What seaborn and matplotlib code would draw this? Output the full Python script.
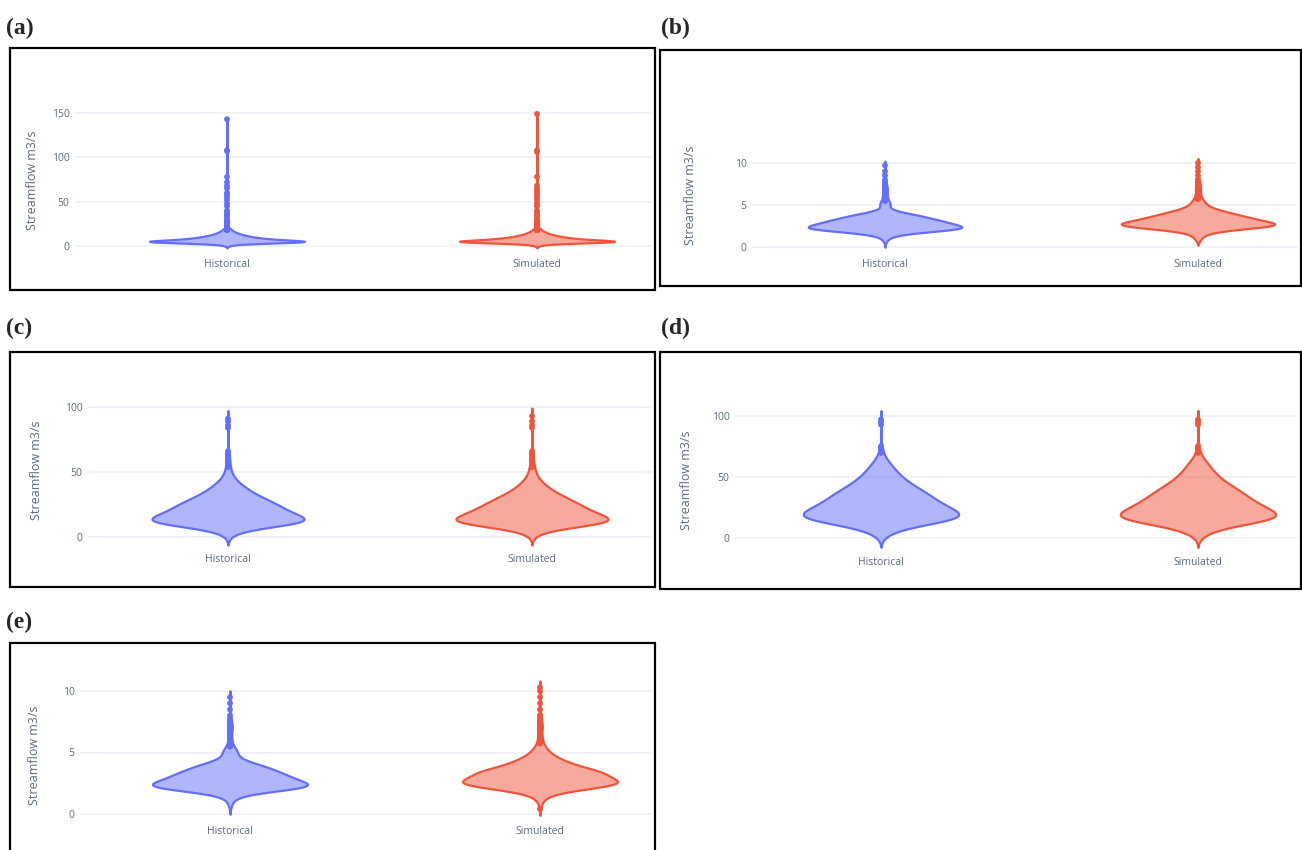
import numpy as np
import pandas as pd
import matplotlib
import matplotlib.pyplot as plt
import seaborn as sns
from matplotlib.colors import to_rgba
from matplotlib.patches import Rectangle

sns.set_theme(style="white")
plt.rcParams['font.family'] = ['Open Sans', 'DejaVu Sans']

# ---- data: streamflow values (m3/s) and how many times each one occurs ----
cats = ["Historical", "Simulated"]
colors = ["#636efa", "#ef553b"]

a_flow = [0, 1, 2, 3, 4, 5, 6, 7, 8, 9, 10, 11, 12, 13, 14, 15, 16, 17, 18, 19, 20,
          22, 24, 25, 27, 28, 30, 33, 35, 38, 40, 45, 48, 52, 55, 58, 60, 62, 65, 68,
          72, 78, 106, 107, 108, 143, 149]
a_hist = [2, 4, 10, 30, 70, 100, 75, 55, 42, 34, 28, 23, 19, 15, 12, 10, 8, 6, 5, 4, 4,
          2, 1, 2, 2, 3, 1, 1, 2, 1, 1, 1, 1, 1, 1, 1, 1, 0, 1, 1,
          1, 1, 0, 1, 1, 1, 0]
a_sim = [2, 4, 9, 28, 68, 100, 78, 57, 44, 35, 29, 23, 19, 15, 12, 10, 8, 6, 5, 4, 4,
         2, 2, 2, 2, 3, 1, 1, 1, 1, 1, 1, 1, 1, 1, 1, 1, 1, 1, 1,
         0, 1, 1, 0, 1, 0, 1]

b_flow = [0.5, 0.75, 1.0, 1.25, 1.5, 1.75, 2.0, 2.25, 2.5, 2.75, 3.0, 3.25, 3.5, 3.75,
          4.0, 4.25, 4.5, 4.75, 5.0, 5.25, 5.5, 5.75, 6.0, 6.25, 6.5, 6.75, 7.0, 7.25,
          7.5, 7.75, 8.0, 8.5, 9.0, 9.5, 9.7, 10.0]
b_hist = [1, 2, 4, 8, 18, 40, 75, 100, 88, 78, 70, 60, 50, 40,
          28, 14, 6, 5, 6, 7, 4, 3, 3, 3, 2, 3, 3, 2,
          2, 1, 1, 1, 1, 0, 1, 0]
b_sim = [0, 3, 4, 6, 10, 18, 35, 65, 95, 100, 85, 72, 62, 52,
         42, 32, 22, 15, 11, 9, 7, 5, 4, 3, 3, 3, 3, 3,
         3, 2, 2, 1, 1, 1, 0, 1]

c_flow = [0, 2, 4, 6, 8, 10, 12, 14, 16, 18, 20, 22, 24, 26, 28, 30, 32, 34, 36, 38,
          40, 42, 44, 46, 48, 50, 52, 54, 56, 58, 60, 62, 64, 66, 84, 86, 89, 91, 93]
c_hist = [3, 6, 12, 25, 48, 80, 100, 92, 82, 74, 68, 63, 58, 53, 47, 40, 34, 28, 24, 20,
          16, 12, 9, 7, 5, 4, 3, 3, 2, 2, 2, 2, 2, 1, 1, 1, 1, 1, 0]
c_sim = [3, 6, 12, 26, 50, 82, 100, 93, 83, 75, 68, 62, 57, 52, 46, 40, 34, 28, 23, 19,
         15, 12, 9, 7, 5, 4, 4, 3, 2, 2, 2, 1, 2, 1, 1, 1, 1, 0, 1]

d_flow = [0, 2.5, 5, 7.5, 10, 12.5, 15, 17.5, 20, 22.5, 25, 27.5, 30, 32.5, 35, 37.5,
          40, 42.5, 45, 47.5, 50, 52.5, 55, 57.5, 60, 62.5, 65, 67.5, 70, 72.5, 75,
          93, 95, 97]
d_hist = [4, 8, 14, 25, 42, 65, 88, 100, 95, 88, 80, 73, 67, 62, 57, 52,
          46, 40, 34, 29, 25, 21, 18, 15, 12, 9, 7, 3, 3, 2, 2,
          1, 1, 1]
d_sim = [4, 8, 14, 25, 42, 66, 90, 100, 94, 87, 79, 72, 66, 61, 56, 51,
         46, 40, 34, 29, 25, 21, 18, 15, 13, 10, 7, 3, 3, 2, 2,
         1, 1, 1]

e_flow = [0.4, 0.5, 0.75, 1.0, 1.25, 1.5, 1.75, 2.0, 2.25, 2.5, 2.75, 3.0, 3.25, 3.5,
          3.75, 4.0, 4.25, 4.5, 4.75, 5.0, 5.25, 5.5, 5.75, 6.0, 6.25, 6.5, 6.75, 7.0,
          7.25, 7.5, 7.75, 8.0, 8.5, 9.0, 9.5, 10.0, 10.3]
e_hist = [0, 1, 2, 3, 6, 14, 35, 70, 100, 90, 78, 70, 62, 54,
          45, 35, 22, 12, 9, 9, 8, 4, 3, 2, 2, 2, 2, 3,
          3, 2, 1, 1, 1, 1, 1, 0, 0]
e_sim = [1, 0, 2, 3, 6, 12, 25, 50, 80, 100, 92, 82, 78, 72,
         55, 42, 32, 24, 17, 12, 9, 6, 4, 3, 3, 2, 2, 3,
         3, 2, 2, 2, 1, 1, 1, 1, 1]

# ---- layout in pixels of the original 1302x850 page ----
W, H = 1302, 850
panels = [
    dict(tag="(a)", tag_xy=(6, 28), frame=(10, 48, 655, 290), axes=(75, 60, 652, 256),
         yref=(0, 246, 150, 113), xref=(227, 537), ticks=[0, 50, 100, 150],
         ylab=(33, 180), width=0.5, data=(a_flow, a_hist, a_sim)),
    dict(tag="(b)", tag_xy=(661, 28), frame=(660, 50, 1301, 286), axes=(752, 62, 1298, 256),
         yref=(0, 247, 10, 163), xref=(885, 1198), ticks=[0, 5, 10],
         ylab=(690, 195), width=0.49, data=(b_flow, b_hist, b_sim)),
    dict(tag="(c)", tag_xy=(6, 328), frame=(10, 352, 655, 587), axes=(88, 364, 652, 551),
         yref=(0, 537, 100, 407), xref=(228, 532), ticks=[0, 50, 100],
         ylab=(37, 470), width=0.5, data=(c_flow, c_hist, c_sim)),
    dict(tag="(d)", tag_xy=(661, 328), frame=(660, 352, 1301, 589), axes=(735, 364, 1298, 554),
         yref=(0, 538, 100, 416), xref=(881, 1198), ticks=[0, 50, 100],
         ylab=(687, 480), width=0.49, data=(d_flow, d_hist, d_sim)),
    dict(tag="(e)", tag_xy=(6, 622), frame=(10, 643, 655, 852), axes=(80, 655, 652, 823),
         yref=(0, 814, 10, 691), xref=(230, 540), ticks=[0, 5, 10],
         ylab=(35, 755), width=0.5, data=(e_flow, e_hist, e_sim)),
]


def plotly_bw(kde):
    # plotly's silverman rule: 1.059 * min(std, iqr/1.349) * n^-0.2, as a factor of std
    d = np.asarray(kde.dataset).ravel()
    std = d.std(ddof=1)
    q1, q3 = np.percentile(d, [25, 75])
    h = 1.059 * min(std, (q3 - q1) / 1.349) * len(d) ** -0.2
    return h / std


def fbox(l, t, r, b):
    return [l / W, 1 - b / H, (r - l) / W, (b - t) / H]


fig = plt.figure(figsize=(W / 100, H / 100), dpi=100)
fig.patch.set_facecolor("white")

tick_color = "#5b6b7f"

for p in panels:
    flow, hist_n, sim_n = p["data"]
    df = pd.DataFrame({
        "Source": np.repeat(cats, [sum(hist_n), sum(sim_n)]),
        "Flow": np.concatenate([np.repeat(flow, hist_n), np.repeat(flow, sim_n)]),
    })

    # plotly shows points outside the 1.5 IQR whiskers
    outl = []
    for c in cats:
        v = df.loc[df["Source"] == c, "Flow"].to_numpy()
        q1, q3 = np.percentile(v, [25, 75])
        iqr = q3 - q1
        mask = (v > q3 + 1.5 * iqr) | (v < q1 - 1.5 * iqr)
        outl.append(pd.DataFrame({"Source": c, "Flow": v[mask]}))
    df_out = pd.concat(outl, ignore_index=True)

    l, t, r, b = p["axes"]
    ax = fig.add_axes(fbox(l, t, r, b))
    sns.violinplot(data=df, x="Source", y="Flow", hue="Source", order=cats, hue_order=cats,
                   palette=colors, inner=None, density_norm="width", width=p["width"],
                   linewidth=1.6, saturation=1, bw_method=plotly_bw, cut=2, gridsize=1500,
                   legend=False, ax=ax)
    for coll, col in zip(ax.collections, colors):
        coll.set_facecolor(to_rgba(col, 0.5))
        coll.set_edgecolor(col)
    sns.stripplot(data=df_out, x="Source", y="Flow", hue="Source", order=cats, hue_order=cats,
                  palette=colors, jitter=False, size=4.2, linewidth=0, legend=False, ax=ax)

    # map category centres and tick values onto the screenshot pixels
    c0, c1 = p["xref"]
    ax.set_xlim((l - c0) / (c1 - c0), (r - c0) / (c1 - c0))
    v0, p0, v1, p1 = p["yref"]
    k = (v1 - v0) / (p0 - p1)
    ax.set_ylim(v0 - (b - p0) * k, v0 + (p0 - t) * k)
    ax.set_yticks(p["ticks"])

    for s in ax.spines.values():
        s.set_visible(False)
    ax.set_facecolor("white")
    ax.yaxis.grid(True, color="#ebf0f8", lw=1.1)
    ax.xaxis.grid(False)
    ax.set_axisbelow(True)
    ax.tick_params(axis="both", length=0, labelsize=7.5, labelcolor=tick_color)
    ax.tick_params(axis="x", pad=2.5)
    ax.tick_params(axis="y", pad=4)
    ax.set_xlabel("")
    ax.set_ylabel("Streamflow m3/s", fontsize=9, color=tick_color)
    ax.yaxis.label.set_verticalalignment("center")
    ax.yaxis.set_label_coords(p["ylab"][0] / W, 1 - p["ylab"][1] / H, transform=fig.transFigure)

    fl, ft, fr, fb = p["frame"]
    fig.add_artist(Rectangle((fl / W, 1 - fb / H), (fr - fl) / W, (fb - ft) / H,
                             transform=fig.transFigure, fill=False, ec="black", lw=1.6))
    fig.text(p["tag_xy"][0] / W, 1 - p["tag_xy"][1] / H, p["tag"], ha="left", va="center",
             fontsize=17, fontweight="bold", family=["Liberation Serif", "DejaVu Serif"])

fig.savefig("out.png", dpi=100, facecolor="white")
